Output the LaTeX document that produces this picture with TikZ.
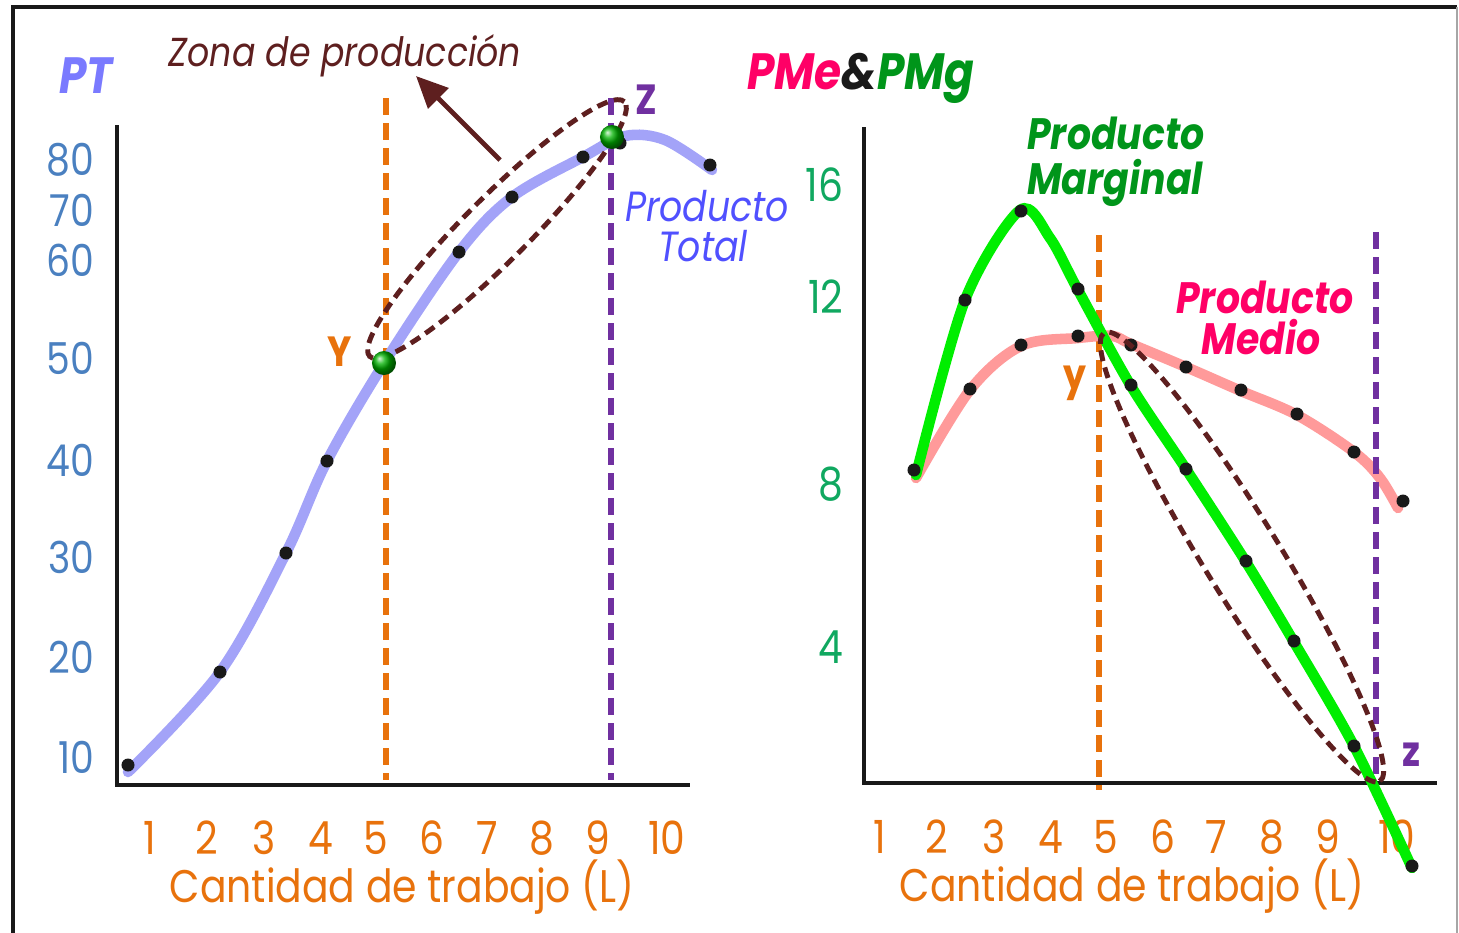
\documentclass[tikz,border=0pt]{standalone}
\usepackage{fontspec}
\setmainfont{Poppins}[FakeStretch=0.86]
\usetikzlibrary{arrows.meta}
\definecolor{ptazul}{HTML}{A3A3F8}
\definecolor{numazul}{HTML}{4A80C0}
\definecolor{naranja}{HTML}{E8720C}
\definecolor{morado}{HTML}{7030A0}
\definecolor{cafe}{HTML}{5E1F1F}
\definecolor{verde}{HTML}{00EE00}
\definecolor{verdeosc}{HTML}{00951A}
\definecolor{verdenum}{HTML}{10A860}
\definecolor{rosa}{HTML}{FF0066}
\definecolor{salmon}{HTML}{FF9A9A}
\definecolor{azultxt}{HTML}{5050FF}
\definecolor{ptletra}{HTML}{7A7AFF}

\begin{document}
\begin{tikzpicture}[x=0.01cm,y=-0.01cm,
  eje/.style={line width=1.2pt,black!90},
  guia/.style={line width=1.7pt,dash pattern=on 0.17cm off 0.08cm},
  curva/.style={line width=3pt,line cap=round},
  zona/.style={line width=1.4pt,cafe,dash pattern=on 0.11cm off 0.065cm},
  numero/.style={font=\fontsize{13}{13}\selectfont},
  letra/.style={font=\bfseries\fontsize{12}{12}\selectfont},
  rotulo/.style={inner sep=0pt,text height=0.72em,text depth=0pt}]
\useasboundingbox (0,0) rectangle (1459,932);
% marco
\draw[line width=1pt,black!90] (13,940) -- (13,7) -- (1457,7);
\draw[line width=0.6pt,black!35] (1457,7) -- (1457,940);

%% ---- PT ----
\draw[guia,naranja] (386,98) -- (386,780);
\draw[guia,morado] (611,98) -- (611,780);
\draw[eje] (117,125) -- (117,785) -- (690,785);
\foreach \v/\y in {10/757,20/657,30/557,40/460,50/358,60/260,70/210,80/160}
  \node[numero,numazul,anchor=east,inner sep=0pt,font=\fontsize{12.5}{12.5}\selectfont] (pt\v) at (95,\y) {\v};
\foreach \n/\x in {1/150,2/207,3/264,4/321,5/376,6/432,7/487,8/542,9/598,10/667}
  \node[numero,naranja] (lx\n) at (\x,838) {\n};
\node[numero,naranja] (leje) at (402,887) {Cantidad de trabajo (L)};
\node[font=\bfseries\itshape\fontsize{14.5}{14.5}\selectfont,ptletra] (pt) at (86,76) {PT};
\node[font=\itshape\fontsize{11.5}{11.5}\selectfont,cafe] (zonatxt) at (345,56) {Zona de producción};
\node[letra,naranja] (ly) at (340,352) {Y};
\node[letra,morado] (lz) at (646,100) {Z};
\node[rotulo,font=\itshape\fontsize{12}{12}\selectfont,azultxt] (ptot1) at (707,209) {Producto};
\node[rotulo,font=\itshape\fontsize{12}{12}\selectfont,azultxt] (ptot2) at (703,249) {Total};

\draw[curva,ptazul] plot[smooth,tension=0.55] coordinates {(128,772) (220,672) (286,553) (327,461) (386,360) (459,252) (512,197) (583,157) (625,136) (665,140) (712,170)};
\foreach \x/\y [count=\i] in {128/765,220/672,286/553,327/461,459/252,512/197,583/157,620/143,710/165}{
  \coordinate (t\i) at (\x,\y);
  \fill[black!90] (t\i) circle (0.065cm);
}
\coordinate (zc1) at (497,229);
\draw[zona,rotate around={45:(zc1)}] (zc1) ellipse [x radius=1.8cm,y radius=0.32cm];
\coordinate (flecha) at (500,160);
\coordinate (punta) at (416,76);
\draw[line width=1.4pt,cafe,-{Triangle[length=9pt,width=8pt]}] (flecha) -- (punta);
\coordinate (bY) at (384,363);
\coordinate (bZ) at (612,137);
\shade[ball color=green!70!black] (bY) circle (0.12cm);
\shade[ball color=green!70!black] (bZ) circle (0.12cm);

%% ---- PMe y PMg ----
\draw[guia,naranja] (1099,235) -- (1099,790);
\draw[eje] (864,127) -- (864,783) -- (1437,783);
\foreach \v/\y in {16/185,12/297,8/484,4/647}
  \node[numero,verdenum,anchor=east,inner sep=0pt] (pm\v) at (844,\y) {\v};
\foreach \n/\x in {1/880,2/937,3/994,4/1051,5/1106,6/1163,7/1216,8/1272,9/1328,10/1397}
  \node[numero,naranja] (rx\n) at (\x,837) {\n};
\node[numero,naranja] (reje) at (1132,886) {Cantidad de trabajo (L)};
\node[font=\bfseries\itshape\fontsize{14.5}{14.5}\selectfont] (pmepmg) at (861,78)
  {\textcolor{rosa}{PMe}\textcolor{black!90}{\&}\textcolor{verdeosc}{PMg}};
\node[rotulo,font=\bfseries\itshape\fontsize{12.5}{12.5}\selectfont,verdeosc] (pmg1) at (1116,137) {Producto};
\node[font=\bfseries\itshape\fontsize{12.5}{12.5}\selectfont,verdeosc] (pmg2) at (1115,183) {Marginal};
\node[rotulo,font=\bfseries\itshape\fontsize{12.5}{12.5}\selectfont,rosa] (pme1) at (1265,301) {Producto};
\node[rotulo,font=\bfseries\itshape\fontsize{12.5}{12.5}\selectfont,rosa] (pme2) at (1261,342) {Medio};
\node[letra,naranja] (ry) at (1075,383) {y};
\node[letra,morado] (rz) at (1411,755) {z};

\draw[curva,salmon] plot[smooth,tension=0.55] coordinates {(916,478) (970,390) (1021,346) (1078,338) (1112,336) (1131,344) (1186,367) (1241,391) (1297,415) (1354,452) (1380,478) (1398,508)};
\draw[guia,morado] (1376,232) -- (1376,780);
\draw[curva,verde] plot[smooth,tension=0.5] coordinates {(916,475) (965,300) (1020,210) (1050,238) (1078,290) (1131,386) (1186,469) (1246,562) (1294,642) (1354,746) (1412,868)};
\foreach \x/\y [count=\i] in {914/470,965/300,1021/211,1078/289,1131/385,1186/469,1246/561,1294/641,1354/746,1412/866}{
  \coordinate (g\i) at (\x,\y);
  \fill[black!90] (g\i) circle (0.065cm);
}
\foreach \x/\y [count=\i] in {970/389,1021/345,1078/336,1131/345,1186/367,1241/390,1297/414,1354/452,1403/501}{
  \coordinate (m\i) at (\x,\y);
  \fill[black!90] (m\i) circle (0.065cm);
}
\coordinate (zc2) at (1242,557);
\draw[zona,rotate around={-58.4:(zc2)}] (zc2) ellipse [x radius=2.63cm,y radius=0.38cm];
\end{tikzpicture}
\end{document}
